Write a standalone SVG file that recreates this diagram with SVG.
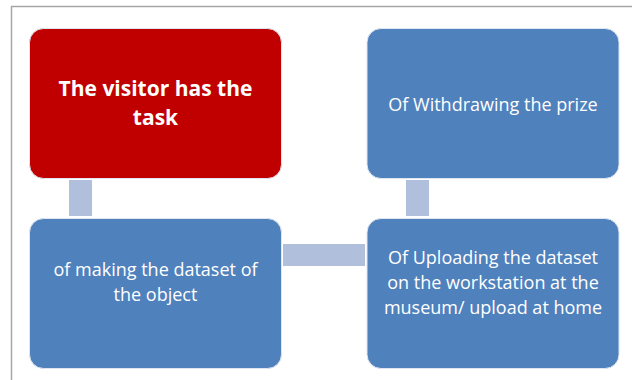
<svg xmlns="http://www.w3.org/2000/svg" width="632" height="380" viewBox="0 0 632 380">
<style>
.box{stroke:#dfe6f1;stroke-width:1}
.blue{fill:#4f81bd}
.red{fill:#c00000}
.conn{fill:#b0c0dc}
text{font-family:"Open Sans","Liberation Sans",sans-serif;fill:#fff;text-anchor:middle}
.t{font-size:18px}
.b{font-size:21px;font-weight:bold}
</style>
<rect width="632" height="380" fill="#fff"/>
<path d="M11.5 380 V6.5 H632" fill="none" stroke="#a6a6a6" stroke-width="1.5"/>
<g id="connectors">
<rect class="conn" x="69" y="180" width="23" height="36"/>
<rect class="conn" x="283" y="244" width="82" height="22"/>
<rect class="conn" x="406" y="180" width="23" height="36"/>
</g>
<g id="node-visitor">
<rect class="box red" x="29.5" y="28.5" width="252" height="150" rx="14"/>
<text class="b" x="155.5" y="96">The visitor has the</text>
<text class="b" x="155.5" y="125">task</text>
</g>
<g id="node-prize">
<rect class="box blue" x="367" y="28.5" width="252" height="150" rx="14"/>
<text class="t" x="493" y="111">Of Withdrawing the prize</text>
</g>
<g id="node-making">
<rect class="box blue" x="29.5" y="218.5" width="252" height="150" rx="14"/>
<text class="t" x="155.5" y="276">of making the dataset of</text>
<text class="t" x="155.5" y="301">the object</text>
</g>
<g id="node-uploading">
<rect class="box blue" x="367" y="218.5" width="252" height="150" rx="14"/>
<text class="t" x="493" y="264">Of Uploading the dataset</text>
<text class="t" x="493" y="289">on the workstation at the</text>
<text class="t" x="493" y="314">museum/ upload at home</text>
</g>
</svg>
